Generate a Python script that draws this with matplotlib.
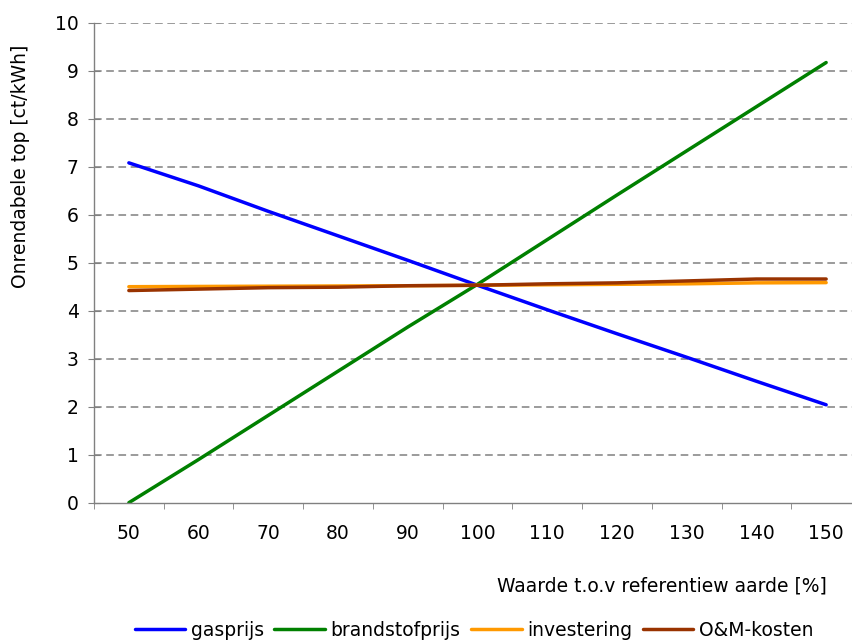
import matplotlib
matplotlib.use("Agg")
import matplotlib.pyplot as plt

plt.rcParams['font.family'] = ['DejaVu Sans']

categories = [50, 60, 70, 80, 90, 100, 110, 120, 130, 140, 150]
gasprijs = [7.08, 6.60, 6.07, 5.56, 5.05, 4.53, 4.02, 3.52, 3.03, 2.53, 2.04]
brandstofprijs = [0.0, 0.90, 1.82, 2.74, 3.66, 4.55, 5.48, 6.41, 7.33, 8.25, 9.17]
investering = [4.50, 4.505, 4.51, 4.515, 4.52, 4.53, 4.54, 4.55, 4.56, 4.58, 4.585]
om_kosten = [4.42, 4.45, 4.48, 4.49, 4.52, 4.53, 4.56, 4.58, 4.62, 4.66, 4.66]

series = [
    ("gasprijs", gasprijs, "#0000FF"),
    ("brandstofprijs", brandstofprijs, "#008000"),
    ("investering", investering, "#FF9900"),
    ("O&M-kosten", om_kosten, "#993300"),
]

FS = 13.5
fig = plt.figure(figsize=(8.52, 6.41), dpi=100)
W, H = 852, 641
left, right, bottom, top = 94, 861, 502.7, 22.7
ax = fig.add_axes([left / W, 1 - bottom / H, (right - left) / W, (bottom - top) / H])

x = list(range(len(categories)))
for name, vals, col in series:
    ax.plot(x, vals, color=col, lw=2.5, label=name, solid_capstyle='round')

ax.set_xlim(-0.5, len(categories) - 0.5)
ax.set_ylim(0, 10)
ax.set_yticks(range(0, 11))
ax.set_xticks(x)
ax.set_xticklabels([str(c) for c in categories])
ax.set_xticks([i - 0.5 for i in range(len(categories) + 1)], minor=True)
ax.tick_params(axis='x', which='major', length=0, pad=15, labelsize=FS)
ax.tick_params(axis='x', which='minor', length=4, color='#808080', direction='out')
ax.tick_params(axis='y', length=8, direction='inout', color='#808080', pad=7, labelsize=FS)

for v in range(1, 11):
    ax.axhline(v, color='#808080', lw=1.1, dashes=(5, 3), zorder=0)

for s in ['top', 'right']:
    ax.spines[s].set_visible(False)
for s in ['left', 'bottom']:
    ax.spines[s].set_color('#808080')
    ax.spines[s].set_linewidth(1.0)

ax.set_ylabel("Onrendabele top [ct/kWh]", fontsize=FS)
ax.yaxis.set_label_coords((30 - left) / (right - left), (bottom - 166) / (bottom - top))

fig.text(827 / W, 1 - 586 / H, "Waarde t.o.v referentiew aarde [%]", ha='right', va='center', fontsize=FS)

fig.legend(loc='center', bbox_to_anchor=(474 / W, 1 - 630 / H), ncol=4, frameon=False,
           fontsize=FS, handlelength=2.7, handletextpad=0.3, columnspacing=0.55)

fig.savefig("out.png", dpi=100)
